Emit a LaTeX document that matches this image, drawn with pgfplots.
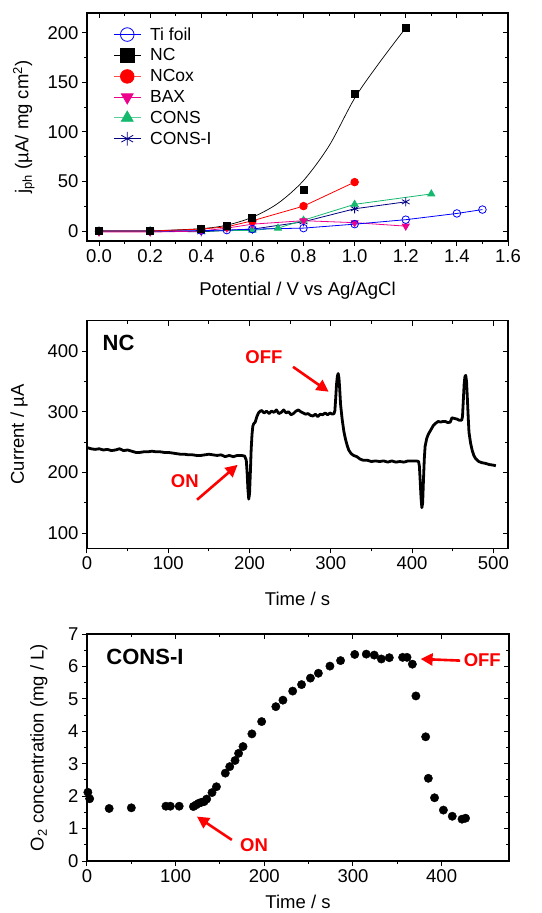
\documentclass[border=0pt]{standalone}
\usepackage{pgfplots}
\pgfplotsset{compat=1.18}
\usepackage{fontspec}
\setmainfont{Liberation Sans}
\usetikzlibrary{arrows.meta}
\definecolor{consgreen}{RGB}{20,185,110}
\definecolor{consinavy}{RGB}{0,0,128}
\definecolor{myblue}{RGB}{0,0,255}
\pgfplotsset{
  base/.style={scale only axis, anchor=north west,
    /pgf/number format/assume math mode=true,
    font=\fontsize{18.5}{20}\selectfont,
    axis line style={line width=1.2pt},
    every tick/.style={black, line width=1pt},
    major tick length=5pt, minor tick length=3pt,
    tick align=outside, xtick pos=left, ytick pos=left,
    xlabel style={font=\fontsize{18.5}{20}\selectfont},
    ylabel style={font=\fontsize{18.5}{20}\selectfont},
  },
  mirror/.style={scale only axis, anchor=north west,
    axis x line*=top, axis y line*=right,
    axis line style={draw=none},
    every tick/.style={black, line width=1pt},
    major tick length=5pt, minor tick length=3pt,
    tick align=inside, xticklabels={}, yticklabels={},
  },
}
\begin{document}
\begin{tikzpicture}
\path[use as bounding box] (0pt,0pt) rectangle (541pt,-913pt);

% ---------------- TOP PANEL ----------------
\begin{axis}[base, at={(87pt,-13pt)}, width=421pt, height=228pt,
  xmin=-0.047, xmax=1.6, ymin=-10, ymax=220,
  xtick={0,0.2,...,1.6}, minor x tick num=1,
  ytick={0,50,100,150,200}, minor y tick num=1,
  xticklabel style={/pgf/number format/.cd, fixed, fixed zerofill, precision=1},
  xlabel={Potential / V vs Ag/AgCl},
  ylabel={j\textsubscript{ph} (µA/ mg cm\textsuperscript{2})},
  xlabel style={at={(axis description cs:0.5,-0.218)}, anchor=center},
  ylabel style={at={(axis description cs:-0.150,0.5)}, anchor=center},
  legend style={at={(0.055,0.955)}, anchor=north west, draw=none, fill=none,
    font=\fontsize{17.5}{17.5}\selectfont, row sep=3.1pt, column sep=7pt},
  legend cell align=left,
  legend image code/.code={\draw[#1, mark repeat=2, mark phase=2, mark size=6.8pt]
     plot coordinates {(0pt,0pt) (13.5pt,0pt) (27pt,0pt)};},
  every axis plot/.append style={line width=0.8pt},
]
\addlegendimage{myblue, mark=o, mark options={fill=white}}
\addlegendentry{Ti foil}
\addlegendimage{black, mark=square*}
\addlegendentry{NC}
\addlegendimage{red!70, mark=*, mark options={red, fill=red}}
\addlegendentry{NCox}
\addlegendimage{magenta, mark=triangle*, mark options={rotate=180, fill=magenta}}
\addlegendentry{BAX}
\addlegendimage{consgreen!70, mark=triangle*, mark options={consgreen, fill=consgreen}}
\addlegendentry{CONS}
\addlegendimage{consinavy, mark=asterisk}
\addlegendentry{CONS-I}
% NC fitted curve
\addplot[black, smooth, forget plot, line width=0.7pt] coordinates {
(0,0) (0.2,0.3) (0.4,2.5) (0.5,6) (0.6,14) (0.7,28) (0.8,51) (0.9,86) (1.0,134) (1.1,171) (1.2,205)};
% CONS-I
\addplot[consinavy, mark=asterisk, mark size=4.5pt, forget plot] coordinates {
(0,0) (0.2,0) (0.4,-0.7) (0.6,2) (0.8,9.4) (1.0,22.5) (1.2,29.5)};
% CONS
\addplot[consgreen, mark=triangle*, mark size=4pt, mark options={fill=consgreen}, forget plot] coordinates {
(0,0) (0.2,0) (0.4,0) (0.6,0.8) (0.7,3) (0.8,11) (1.0,27) (1.3,37.5)};
% BAX
\addplot[magenta, mark=triangle*, mark size=4pt, mark options={rotate=180, fill=magenta}, forget plot] coordinates {
(0,-1) (0.2,-1) (0.4,0) (0.5,3) (0.6,7) (0.8,10.5) (1.0,8.5) (1.2,5)};
% Ti foil
\addplot[myblue, mark=o, mark size=3.8pt, mark options={fill=white}, forget plot] coordinates {
(0,0) (0.2,0) (0.4,0.5) (0.5,1) (0.6,2) (0.8,3) (1.0,7) (1.2,11.5) (1.4,17.8) (1.5,21.7)};
% NCox
\addplot[red, mark=*, mark size=3.8pt, forget plot] coordinates {
(0,0) (0.2,0) (0.4,2) (0.5,4.3) (0.6,10.4) (0.8,25.2) (1.0,49.4)};
% NC markers
\addplot[black, only marks, mark=square*, mark size=3.5pt, forget plot] coordinates {
(0,0) (0.2,0) (0.4,2.7) (0.5,5) (0.6,13.8) (0.8,41.4) (1.0,137.9) (1.2,205.4)};
\end{axis}
\begin{axis}[mirror, at={(87pt,-13pt)}, width=421pt, height=228pt,
  xmin=-0.047, xmax=1.6, ymin=-10, ymax=220,
  xtick={0,0.2,...,1.6}, minor x tick num=1,
  ytick={0,50,100,150,200}, minor y tick num=1]
\end{axis}

% ---------------- MIDDLE PANEL ----------------
\begin{axis}[base, at={(87pt,-320.7pt)}, width=421pt, height=227.6pt,
  xmin=0, xmax=518, ymin=75, ymax=450,
  xtick={0,100,...,500}, minor x tick num=1,
  ytick={100,200,300,400}, minor y tick num=1,
  xlabel={Time / s}, ylabel={Current / µA},
  xlabel style={at={(axis description cs:0.5,-0.223)}, anchor=center},
  ylabel style={at={(axis description cs:-0.1615,0.5)}, anchor=center},
]
\addplot[black, line width=2.8pt, line join=round] coordinates {
(0,241) (5,239) (10,238) (15,239) (20,237) (25,238) (30,236) (35,237) (40,239) (45,236)
(50,237) (55,235) (60,233) (65,233) (70,234) (75,234) (80,235) (85,234) (90,234) (95,233)
(100,233) (105,232) (110,231) (115,230) (120,230) (125,229) (130,229) (135,228) (140,228)
(145,229) (150,230) (155,229) (160,228) (165,229) (170,226) (175,228) (180,226) (185,228)
(190,228) (194,227) (196,220) (197,200) (198,172) (199,156) (200,165) (201,200) (202,238)
(203,262) (204,276) (205,280) (207,283) (209,292) (211,298) (213,301) (215,302) (218,298)
(221,301) (224,297) (227,301) (230,299) (233,303) (236,297) (239,299) (242,303) (245,298)
(248,300) (251,295) (254,297) (257,301) (260,303) (263,300) (266,298) (269,296) (272,297)
(275,294) (278,293) (281,296) (284,292) (287,296) (290,295) (293,298) (296,295) (299,298)
(302,296) (304,297) (305,302) (306,322) (307,345) (308,358) (309,363) (310,356) (311,336)
(312,312) (314,287) (316,268) (318,255) (320,245) (322,237) (325,231) (328,228) (332,226)
(336,222) (340,220) (345,220) (350,218) (355,219) (360,218) (365,219) (370,217) (375,219)
(380,217) (385,218) (390,217) (395,219) (400,219) (405,219) (408,218) (409,210) (410,185)
(411,158) (412,142) (413,150) (414,188) (415,222) (416,243) (418,256) (420,263) (423,270)
(426,277) (429,281) (432,284) (435,283) (438,284) (441,284) (444,282) (447,283) (449,290)
(452,289) (455,288) (458,286) (461,286) (462,292) (463,318) (464,345) (465,358) (466,360)
(467,350) (468,322) (469,292) (470,266) (472,248) (474,236) (476,228) (478,223) (482,218)
(486,216) (490,215) (495,213) (500,212) (503,211)};
\node[anchor=west, font=\fontsize{22}{22}\selectfont\bfseries] at (axis cs:15,413) {NC};
\node[red, font=\fontsize{18.5}{20}\selectfont\bfseries] at (axis cs:217.6,390) {OFF};
\node[red, font=\fontsize{18.5}{20}\selectfont\bfseries] at (axis cs:120.4,186) {ON};
\draw[red, line width=2.6pt, -{Triangle[length=12pt,width=12pt]}] (axis cs:253.5,374) -- (axis cs:297.3,333);
\draw[red, line width=2.6pt, -{Triangle[length=12pt,width=12pt]}] (axis cs:135.4,155) -- (axis cs:185.3,212.5);
\end{axis}
\begin{axis}[mirror, at={(87pt,-320.7pt)}, width=421pt, height=227.6pt,
  xmin=0, xmax=518, ymin=75, ymax=450,
  xtick={0,100,...,500}, minor x tick num=1,
  ytick={100,200,300,400}, minor y tick num=1]
\end{axis}

% ---------------- BOTTOM PANEL ----------------
\begin{axis}[base, at={(87pt,-634pt)}, width=422pt, height=227pt,
  xmin=0, xmax=476, ymin=0, ymax=7,
  xtick={0,100,...,400}, minor x tick num=1,
  ytick={0,1,...,7}, minor y tick num=1,
  clip=false,
  xlabel={Time / s}, ylabel={O\textsubscript{2} concentration (mg / L)},
  xlabel style={at={(axis description cs:0.5,-0.178)}, anchor=center},
  ylabel style={at={(axis description cs:-0.114,0.5)}, anchor=center},
]
\addplot[black, only marks, mark=*, mark size=4.2pt] coordinates {
(1,2.12) (3,1.92) (25,1.62) (50,1.64) (89,1.69) (94,1.69) (104,1.69) (120,1.68)
(123,1.73) (126,1.78) (129,1.81) (132,1.83) (135,1.91) (141,2.11) (146,2.29) (156,2.71)
(161,2.91) (167,3.10) (171,3.32) (176,3.53) (186,3.92) (197,4.30) (213,4.76) (221,4.96)
(232,5.24) (242,5.44) (252,5.64) (261,5.79) (274,6.01) (286,6.18) (302,6.37) (315,6.38)
(324,6.35) (332,6.23) (341,6.27) (356,6.28) (361,6.28) (367,6.07) (371,5.09) (382,3.83)
(385,2.55) (392,1.95) (402,1.57) (412,1.38) (423,1.29) (427,1.32)};
\node[anchor=west, font=\fontsize{22}{22}\selectfont\bfseries] at (axis cs:18,6.3) {CONS-I};
\node[anchor=west, red, font=\fontsize{18.5}{20}\selectfont\bfseries] at (axis cs:421,6.2) {OFF};
\node[red, font=\fontsize{18.5}{20}\selectfont\bfseries] at (axis cs:188.5,0.49) {ON};
\draw[red, line width=2.6pt, -{Triangle[length=12pt,width=12pt]}] (axis cs:420.8,6.18) -- (axis cs:376.3,6.23);
\draw[red, line width=2.6pt, -{Triangle[length=12pt,width=12pt]}] (axis cs:163.4,0.65) -- (axis cs:124,1.37);
\end{axis}
\begin{axis}[mirror, at={(87pt,-634pt)}, width=422pt, height=227pt,
  xmin=0, xmax=476, ymin=0, ymax=7,
  xtick={0,100,...,400}, minor x tick num=1,
  ytick={0,1,...,7}, minor y tick num=1]
\end{axis}
\end{tikzpicture}
\end{document}
